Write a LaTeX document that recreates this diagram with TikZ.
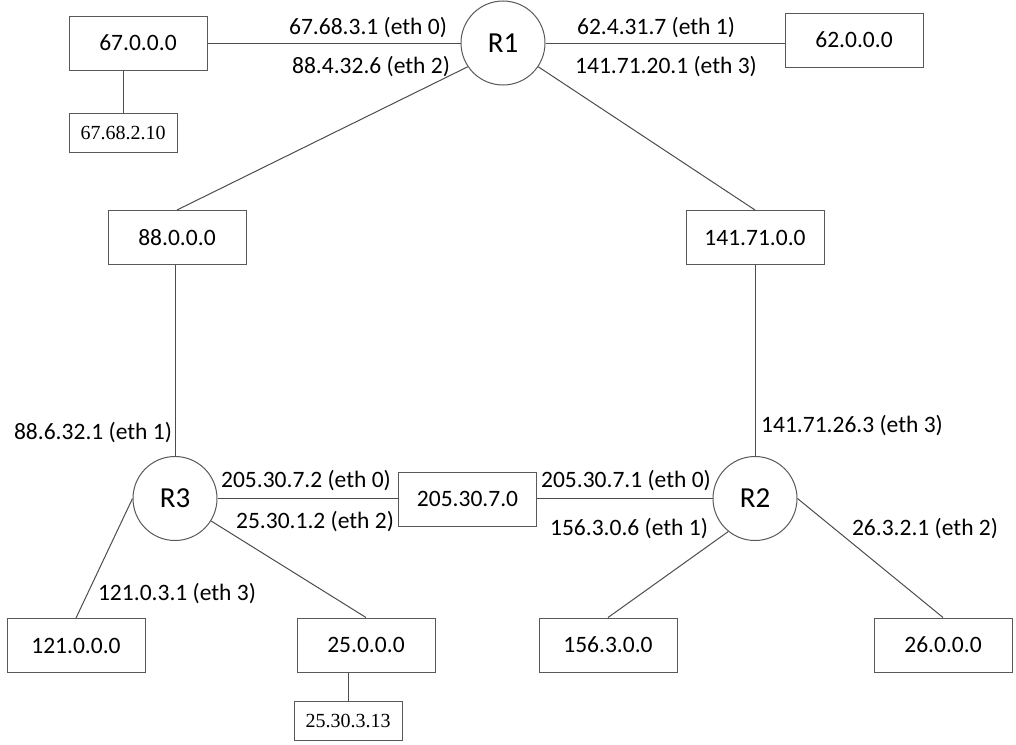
\documentclass[tikz,border=0pt]{standalone}
\usepackage{fontspec}
\setmainfont{Carlito}
\newfontfamily\serifnum{Liberation Serif}
\begin{document}
\begin{tikzpicture}[x=1pt,y=-1pt,
  netbox/.style={draw=black!65, line width=1pt, rectangle, minimum width=138pt, minimum height=54pt, inner sep=0pt, font=\fontsize{23.5}{28}\selectfont},
  hostbox/.style={draw=black!65, line width=1pt, rectangle, minimum width=108pt, minimum height=39pt, inner sep=0pt, font=\serifnum\fontsize{20}{24}\selectfont},
  router/.style={draw=black!65, line width=1pt, circle, minimum size=84pt, inner sep=0pt, font=\fontsize{29}{34}\selectfont},
  iflabel/.style={inner sep=0pt, font=\fontsize{23.5}{28}\selectfont},
  link/.style={draw=black!70, line width=1pt}]
\useasboundingbox (0,0) rectangle (1016,744);

% routers
\node[router] (R1) at (503,43) {R1};
\node[router] (R3) at (175,498.5) {R3};
\node[router] (R2) at (755,498.5) {R2};

% networks
\node[netbox] (n67) at (138,43) {67.0.0.0};
\node[netbox] (n62) at (854,40) {62.0.0.0};
\node[netbox] (n88) at (177,237.5) {88.0.0.0};
\node[netbox] (n141) at (755,237.5) {141.71.0.0};
\node[netbox] (n205) at (467.5,499) {205.30.7.0};
\node[netbox] (n121) at (76,645.5) {121.0.0.0};
\node[netbox] (n25) at (366,645) {25.0.0.0};
\node[netbox] (n156) at (608,645) {156.3.0.0};
\node[netbox] (n26) at (943,645) {26.0.0.0};

% hosts
\node[hostbox] (h67) at (123,132.5) {67.68.2.10};
\node[hostbox] (h25) at (348,720.5) {25.30.3.13};

% links
\draw[link] (n67.east) -- (R1.west);
\draw[link] (R1.east) -- (R1.east -| n62.west);
\draw[link] (R1.214) -- (n88.north);
\draw[link] (R1.326) -- (n141.north);
\draw[link] (R3.north |- n88.south) -- (R3.north);
\draw[link] (n141.south) -- (R2.north);
\draw[link] (R3.east) -- (R3.east -| n205.west);
\draw[link] (R2.west -| n205.east) -- (R2.west);
\draw[link] (R3.west) -- (n121.north);
\draw[link] (R3) -- (n25.north);
\draw[link] (R2.231) -- (n156.north);
\draw[link] (R2.east) -- (n26.north);
\draw[link] (h67.north |- n67.south) -- (h67.north);
\draw[link] (n25.south -| h25.north) -- (h25.north);

% interface addresses
\node[iflabel] (l670) at (368,28) {67.68.3.1 (eth 0)};
\node[iflabel] (l882) at (371,67) {88.4.32.6 (eth 2)};
\node[iflabel] (l621) at (656,28) {62.4.31.7 (eth 1)};
\node[iflabel] (l1413) at (666,67) {141.71.20.1 (eth 3)};
\node[iflabel] (l881) at (93,433) {88.6.32.1 (eth 1)};
\node[iflabel] (l2050) at (306,481) {205.30.7.2 (eth 0)};
\node[iflabel] (l252) at (315,522) {25.30.1.2 (eth 2)};
\node[iflabel] (l1213) at (177,594) {121.0.3.1 (eth 3)};
\node[iflabel] (l2051) at (626,481) {205.30.7.1 (eth 0)};
\node[iflabel] (l1561) at (629,529) {156.3.0.6 (eth 1)};
\node[iflabel] (l1412) at (852,426) {141.71.26.3 (eth 3)};
\node[iflabel] (l262) at (925,529) {26.3.2.1 (eth 2)};
\end{tikzpicture}
\end{document}
